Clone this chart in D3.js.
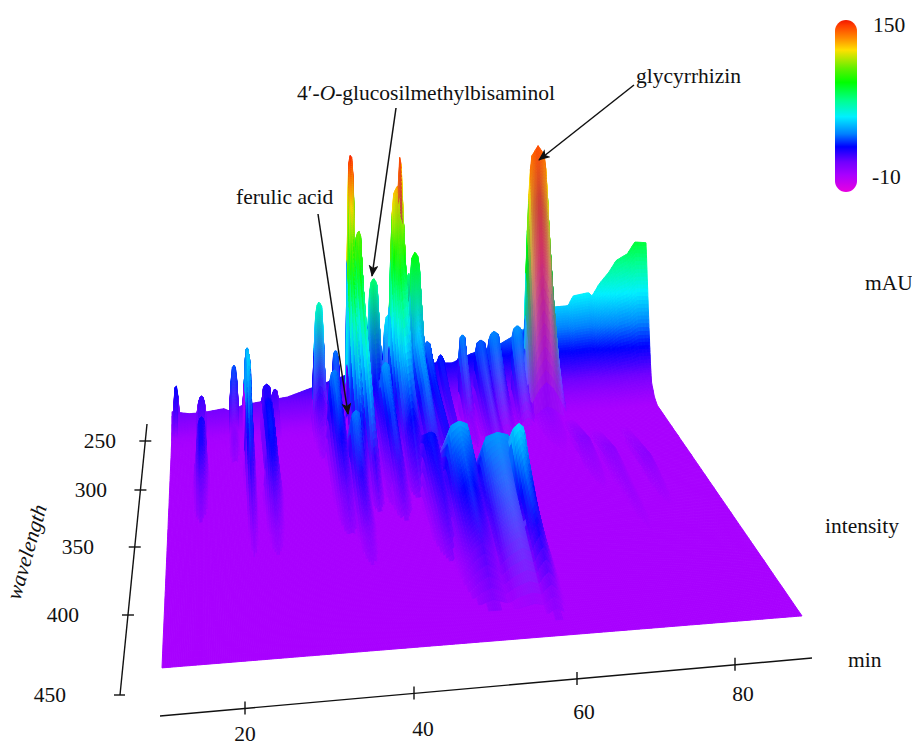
<!DOCTYPE html>
<html>
<head>
<meta charset="utf-8">
<script src="https://cdn.jsdelivr.net/npm/d3@7"></script>
<style>
  html, body { margin: 0; background: #fff; }
  text { font-family: "Liberation Serif", serif; font-size: 21.5px; fill: #111; }
</style>
</head>
<body>
<div id="chart"></div>
<script>
//time ticks and wavelength ticks
var timeTicks = [20, 40, 60, 80];
var wavelengthTicks = [250, 300, 350, 400, 450];

//colour bar
var rampValues = [-10, 6, 18, 32, 44, 60, 75, 92, 105, 122, 133, 145, 150];
var rampColors = ['#e800e0', '#a800ff', '#7000ff', '#0000ff', '#0080ff', '#00f0ff', '#00ff90', '#00ff00', '#60f000', '#ffe000', '#ff8c00', '#ff3c00', '#f01800'];

//intensity along the back edge of the surface
var backTimes = [10, 13, 15.5, 18.8, 20, 22, 29.5, 32.8, 39.5, 53.7, 56.9, 60, 64.3, 68, 73, 75.9, 76.7, 79.2, 79.8, 80.9, 82.5, 83.7, 85.5, 86.7, 88.5];
var backLevels = [18, 16, 16, 17, 15, 18, 20, 23, 29, 31, 30, 34, 37, 43, 55, 55, 60, 61, 59, 65, 71, 77, 80, 86, 85];

//how the back edge falls away with wavelength
var fallWaves = [240, 242, 244, 246, 248, 250, 255, 260];
var fallShare = [1, 0.8, 0.6, 0.4, 0.22, 0.1, 0.03, 0];
var floorLevel = 6;

//peaks: retention time, width, and intensity at the listed wavelengths
var peakTimes = [10.7, 15, 20.5, 22.7, 26, 27.4, 34.8, 37.6, 36.7, 38.8, 40.1, 41.4, 43.9, 46.5, 44.8, 47.9, 48.3, 49.7, 50.8, 52.8, 55, 58.6, 61.6, 63.8, 67.6, 71, 52.9, 49.7, 57.8, 60.2, 74, 77, 81.5];
var peakWidths = [0.5, 0.9, 0.8, 0.6, 1.1, 0.8, 1.1, 0.8, 1.3, 1.2, 0.8, 0.9, 1.3, 1.4, 1.2, 1.7, 0.5, 0.9, 1.4, 1.2, 1, 0.9, 1.5, 1.6, 1.4, 2.5, 2.6, 1.6, 3.6, 1.6, 1.5, 1.5, 1.3];
var peakWaves = [
  [240, 250], [240, 255, 275, 300, 320, 345], [240, 250, 270, 290],
  [240, 255, 270, 285, 300, 320, 340, 360, 385], [240, 255, 270, 300, 320, 340, 360, 385], [240, 260, 280],
  [240, 252, 270, 300], [240, 255, 280], [250, 265, 285, 310, 340, 370],
  [280, 310, 340, 370, 400], [240, 246, 252, 260, 270, 285, 300, 330], [240, 255, 270, 285, 300, 320, 350],
  [240, 260, 290, 320, 350], [240, 255, 280], [255, 270, 300, 330, 360],
  [240, 248, 255, 265, 275, 300, 340], [240, 255], [240, 250, 270],
  [240, 255, 280, 320, 360], [240, 270, 320, 370], [240, 300, 350, 390],
  [240, 270, 300], [240, 300], [240, 280], [240, 270], [240, 262, 300],
  [300, 340, 370, 400, 440], [280, 320, 360, 400], [320, 350, 430],
  [320, 360, 380, 400, 425, 450], [270, 300, 340], [280, 310, 350, 380], [280, 320, 360]
];
var peakLevels = [
  [32, 8], [25, 20, 30, 30, 20, 0], [40, 12, 14, 0],
  [49, 54, 56, 48, 40, 28, 20, 12, 0], [28, 28, 33, 34, 31, 21, 12, 0], [25, 10, 0],
  [70, 26, 14, 0], [43, 16, 0], [10, 44, 42, 32, 20, 0],
  [12, 44, 28, 14, 0], [149, 125, 105, 90, 75, 55, 35, 0], [107, 92, 80, 66, 50, 26, 0],
  [80, 36, 28, 16, 0], [60, 16, 0], [26, 48, 40, 24, 0],
  [129, 105, 90, 75, 60, 34, 0], [145, 36], [81, 26, 0],
  [92, 56, 46, 24, 0], [43, 36, 28, 0], [35, 20, 18, 0],
  [45, 14, 0], [41, 6], [45, 6], [47, 6], [143, 12, 6],
  [8, 50, 36, 22, 0], [10, 34, 26, 0], [10, 48, 8],
  [10, 58, 42, 30, 14, 0], [7, 13, 6], [6, 12, 9, 6], [6, 12, 6]
];
//peak outline, share of the height by distance from the apex, steep near
//the apex and soft further along the wavelength direction
var shapeOffsets = [0, 0.45, 0.6, 0.76, 0.87, 1];
var shapeShare = [1, 0.96, 0.82, 0.6, 0.35, 0];
var softOffsets = [0, 0.25, 0.5, 0.75, 1];
var softShare = [1, 0.8, 0.45, 0.15, 0];

//layout
var svgWidth = 912;
var svgHeight = 746;
var corners = {backLeft: [172, 445], backRight: [646, 400], frontRight: [802, 627], frontLeft: [162, 679]};
var pxPerUnit = 1.85;

var svg = d3.select('#chart').append('svg')
    .attr('width', svgWidth)
    .attr('height', svgHeight);

//floor of the plot is a perspective quad, solve it once
function solveQuad(c) {
    var p0 = c.backLeft, p1 = c.backRight, p2 = c.frontRight, p3 = c.frontLeft;
    var sx = p0[0] - p1[0] + p2[0] - p3[0];
    var sy = p0[1] - p1[1] + p2[1] - p3[1];
    var dx1 = p1[0] - p2[0], dx2 = p3[0] - p2[0];
    var dy1 = p1[1] - p2[1], dy2 = p3[1] - p2[1];
    var den = dx1 * dy2 - dx2 * dy1;
    var g = (sx * dy2 - dx2 * sy) / den;
    var h = (dx1 * sy - sx * dy1) / den;
    return {
        a: p1[0] - p0[0] + g * p1[0], b: p3[0] - p0[0] + h * p3[0], c: p0[0],
        d: p1[1] - p0[1] + g * p1[1], e: p3[1] - p0[1] + h * p3[1], f: p0[1],
        g: g, h: h
    };
}
var quad = solveQuad(corners);

var u = d3.scaleLinear().domain([10, 88.5]).range([0, 1]);
var v = d3.scaleLinear().domain([240, 450]).range([0, 1]);

function project(t, w, z) {
    var uu = u(t), vv = v(w);
    var k = quad.g * uu + quad.h * vv + 1;
    return [
        (quad.a * uu + quad.b * vv + quad.c) / k,
        (quad.d * uu + quad.e * vv + quad.f) / k - z * pxPerUnit
    ];
}

//scales for colour and surface height
var ramp = d3.scaleLinear().domain(rampValues).range(rampColors).interpolate(d3.interpolateRgb).clamp(true);
var backLine = d3.scaleLinear().domain(backTimes).range(backLevels).clamp(true);
var fall = d3.scaleLinear().domain(fallWaves).range(fallShare).clamp(true);
var shape = d3.scaleLinear().domain(shapeOffsets).range(shapeShare).clamp(true);
var softShape = d3.scaleLinear().domain(softOffsets).range(softShare).clamp(true);
var softness = d3.scaleLinear().domain([0, 30]).range([0, 1]).clamp(true);
var bisect = d3.bisectRight;

//wavelength where each peak is strongest
var peakApex = peakLevels.map(function(ls, i) { return peakWaves[i][d3.maxIndex(ls)]; });

function baseAt(t, w) {
    return floorLevel + (backLine(t) - floorLevel) * fall(w);
}

//returns height and colour; colour is blended between the peak's listed
//wavelengths so that the steep sheets go grey the way the original does
function surfaceAt(t, w) {
    var base = baseAt(t, w);
    var best = null, bestZ = base;
    peakTimes.forEach(function(t0, i) {
        var ws = peakWaves[i], ls = peakLevels[i];
        if (w < ws[0] || w > ws[ws.length - 1]) return;
        var soft = w > peakApex[i] ? softness(w - peakApex[i]) : 0;
        var off = Math.abs(t - t0) / (peakWidths[i] * (1 + 0.9 * soft));
        if (off >= 1) return;
        var j = Math.min(bisect(ws, w) - 1, ws.length - 2);
        var s = (w - ws[j]) / (ws[j + 1] - ws[j]);
        var k = shape(off) * (1 - soft) + softShape(off) * soft;
        var z = (ls[j] + (ls[j + 1] - ls[j]) * s) * k;
        if (z > bestZ) {
            bestZ = z;
            best = {top: ls[j] * k, low: ls[j + 1] * k, s: s};
        }
    });
    var colour = best
        ? d3.interpolateRgb(ramp(Math.max(base, best.top)), ramp(Math.max(base, best.low)))(best.s)
        : ramp(base);
    return {z: bestZ, colour: colour};
}

//mesh, fine at the back where the wall drops
var rows = d3.range(240, 250, 0.25).concat(d3.range(250, 260, 1), d3.range(260, 400, 2.5), d3.range(400, 451, 5));
var columns = d3.range(10, 88.5, 0.25).concat([88.5]);

var heights = rows.map(function(w) {
    return columns.map(function(t) { return surfaceAt(t, w).z; });
});

var cells = [];
for (var r = 0; r < rows.length - 1; r++) {
    for (var c = 0; c < columns.length - 1; c++) {
        var p = [
            project(columns[c], rows[r], heights[r][c]),
            project(columns[c + 1], rows[r], heights[r][c + 1]),
            project(columns[c + 1], rows[r + 1], heights[r + 1][c + 1]),
            project(columns[c], rows[r + 1], heights[r + 1][c])
        ];
        cells.push({
            d: 'M' + p.map(function(q) { return q[0].toFixed(1) + ',' + q[1].toFixed(1); }).join('L') + 'Z',
            fill: surfaceAt((columns[c] + columns[c + 1]) / 2, (rows[r] + rows[r + 1]) / 2).colour
        });
    }
}

//surface, back rows first so the front ones cover them
svg.append('g')
    .style('filter', 'blur(0.6px)')
    .selectAll('path')
    .data(cells)
    .join('path')
    .attr('d', function(d) { return d.d; })
    .attr('fill', function(d) { return d.fill; })
    .attr('stroke', function(d) { return d.fill; })
    .attr('stroke-width', 1);

//colour bar
var defs = svg.append('defs');
var barY = d3.scaleLinear().domain([-10, 150]).range([192, 20]);
var grad = defs.append('linearGradient')
    .attr('id', 'bar')
    .attr('x1', 0).attr('x2', 0).attr('y1', 1).attr('y2', 0);
grad.selectAll('stop')
    .data(rampValues)
    .join('stop')
    .attr('offset', function(d) { return (d + 10) / 160; })
    .attr('stop-color', function(d, i) { return rampColors[i]; });
svg.append('rect')
    .attr('x', 835).attr('y', barY(150))
    .attr('width', 22).attr('height', barY(-10) - barY(150))
    .attr('rx', 11)
    .attr('fill', 'url(#bar)');
svg.append('text').attr('x', 873).attr('y', 32).text('150');
svg.append('text').attr('x', 872).attr('y', 184).text('-10');

//plain labels
svg.append('text').attr('x', 865).attr('y', 290).text('mAU');
svg.append('text').attr('x', 825).attr('y', 533).text('intensity');
svg.append('text').attr('x', 848).attr('y', 667).text('min');
svg.append('text')
    .attr('transform', 'translate(20,601) rotate(-74)')
    .style('font-style', 'italic')
    .text('wavelength');

//time axis
var axisLine = {x1: 160, y1: 716, x2: 812, y2: 658};
var timeX = d3.scaleLinear().domain(timeTicks).range([245, 414, 577, 735]);
var timeLabelX = [245, 423, 584, 743];
var timeLabelY = [741, 736, 719, 701];
var lineY = d3.scaleLinear().domain([axisLine.x1, axisLine.x2]).range([axisLine.y1, axisLine.y2]);
var axes = svg.append('g').attr('stroke', '#111').attr('stroke-width', 1.4);
axes.append('line')
    .attr('x1', axisLine.x1).attr('y1', axisLine.y1)
    .attr('x2', axisLine.x2).attr('y2', axisLine.y2);
axes.selectAll('.time-tick')
    .data(timeTicks)
    .join('line')
    .attr('class', 'time-tick')
    .attr('x1', function(d) { return timeX(d); })
    .attr('x2', function(d) { return timeX(d); })
    .attr('y1', function(d) { return lineY(timeX(d)) - 7; })
    .attr('y2', function(d) { return lineY(timeX(d)) + 6; });
svg.selectAll('.time-label')
    .data(timeTicks)
    .join('text')
    .attr('class', 'time-label')
    .attr('x', function(d, i) { return timeLabelX[i]; })
    .attr('y', function(d, i) { return timeLabelY[i]; })
    .attr('text-anchor', 'middle')
    .text(function(d) { return d; });

//wavelength axis
var waveY = d3.scaleLinear().domain(wavelengthTicks).range([441, 490, 547, 615, 695]);
var waveLineX = d3.scaleLinear().domain([424, 695]).range([147, 120]);
var waveLabelX = [116, 107, 94, 79, 66];
axes.append('line')
    .attr('x1', waveLineX(424)).attr('y1', 424)
    .attr('x2', waveLineX(695)).attr('y2', 695);
axes.selectAll('.wave-tick')
    .data(wavelengthTicks)
    .join('line')
    .attr('class', 'wave-tick')
    .attr('x1', function(d) { return waveLineX(waveY(d)) - 6; })
    .attr('x2', function(d) { return waveLineX(waveY(d)) + (d === 450 ? 5 : 6); })
    .attr('y1', function(d) { return waveY(d); })
    .attr('y2', function(d) { return waveY(d); });
svg.selectAll('.wave-label')
    .data(wavelengthTicks)
    .join('text')
    .attr('class', 'wave-label')
    .attr('x', function(d, i) { return waveLabelX[i]; })
    .attr('y', function(d) { return waveY(d) + 7; })
    .attr('text-anchor', 'end')
    .text(function(d) { return d; });

//annotations with arrows
defs.append('marker')
    .attr('id', 'head')
    .attr('viewBox', '0 0 12 10')
    .attr('refX', 11).attr('refY', 5)
    .attr('markerWidth', 12).attr('markerHeight', 10)
    .attr('markerUnits', 'userSpaceOnUse')
    .attr('orient', 'auto')
    .append('path')
    .attr('d', 'M0,0L12,5L0,10L3,5Z')
    .attr('fill', '#111');

var noteText = svg.append('g');
noteText.append('text').attr('x', 236).attr('y', 204).text('ferulic acid');
noteText.append('text').attr('x', 636).attr('y', 83).text('glycyrrhizin');
var longNote = noteText.append('text').attr('x', 297).attr('y', 100);
longNote.append('tspan').text('4\u2032-');
longNote.append('tspan').style('font-style', 'italic').text('O');
longNote.append('tspan').text('-glucosilmethylbisaminol');

var arrows = [
    [318, 214, 348, 414],
    [396, 108, 372, 276],
    [634, 85, 539, 160]
];
svg.selectAll('.arrow')
    .data(arrows)
    .join('line')
    .attr('class', 'arrow')
    .attr('x1', function(d) { return d[0]; })
    .attr('y1', function(d) { return d[1]; })
    .attr('x2', function(d) { return d[2]; })
    .attr('y2', function(d) { return d[3]; })
    .attr('stroke', '#111')
    .attr('stroke-width', 1.5)
    .attr('marker-end', 'url(#head)');
</script>
</body>
</html>
